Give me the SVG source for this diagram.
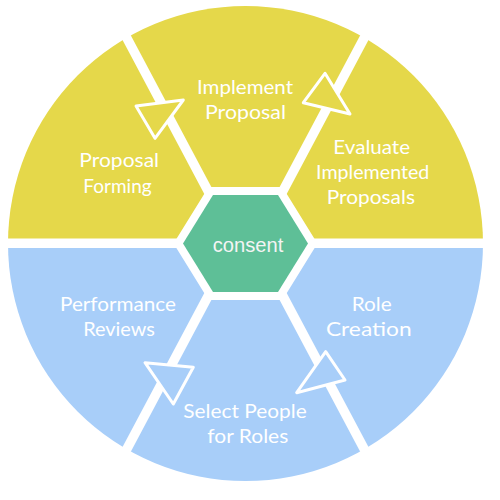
<svg xmlns="http://www.w3.org/2000/svg" width="500" height="500" viewBox="0 0 500 500">
<style>
.lbl{font-family:Lato,"Open Sans","DejaVu Sans",sans-serif;font-size:19px;fill:#FFFFFF;text-anchor:middle}
.gap{stroke:#FFFFFF;stroke-width:9.5;fill:none}
.arr{stroke:#FFFFFF;stroke-width:3;stroke-linejoin:round}
.y{fill:#E5D84A}
.b{fill:#A8CEF9}
</style>
<defs>
<clipPath id="disc"><circle cx="245.5" cy="243.5" r="237.5"/></clipPath>
</defs>
<rect width="500" height="500" fill="#FFFFFF"/>
<g id="wheel" clip-path="url(#disc)">
<rect x="0" y="0" width="500" height="243.5" class="y"/>
<rect x="0" y="243.5" width="500" height="256.5" class="b"/>
</g>
<g id="connectors">
<line class="gap" x1="0" y1="243.2" x2="500" y2="243.2"/>
<line class="gap" x1="236" y1="243.5" x2="104" y2="-5"/>
<line class="gap" x1="255" y1="243.5" x2="387" y2="-5"/>
<line class="gap" x1="236" y1="243.5" x2="104" y2="492"/>
<line class="gap" x1="255" y1="243.5" x2="387" y2="492"/>
<polygon class="arr y" points="136,106 183.3,100 155,138.3"/>
<polygon class="arr y" points="325,73.3 303.3,102.7 350,114"/>
<polygon class="arr b" points="145,362.7 193.3,367.3 173.3,404"/>
<polygon class="arr b" points="325.7,351.7 345,380 296.7,392.7"/>
</g>
<g id="node-consent">
<polygon points="183,243.5 213,195 278,195 308,243.5 278,292 213,292" fill="#FFFFFF" stroke="#FFFFFF" stroke-width="16" stroke-linejoin="miter"/>
<polygon points="183,243.5 213,195 278,195 308,243.5 278,292 213,292" fill="#5EBF97"/>
<text x="248" y="251.7" font-family="'Liberation Sans',Arial,sans-serif" font-size="20.5" fill="#F4F4F4" text-anchor="middle" textLength="70.6" lengthAdjust="spacingAndGlyphs">consent</text>
</g>
<g id="node-implement">
<text class="lbl" x="245" y="94.3" textLength="96" lengthAdjust="spacingAndGlyphs">Implement</text>
<text class="lbl" x="245.5" y="119.3" textLength="81" lengthAdjust="spacingAndGlyphs">Proposal</text>
</g>
<g id="node-forming">
<text class="lbl" x="119.2" y="166.7" textLength="79.7" lengthAdjust="spacingAndGlyphs">Proposal</text>
<text class="lbl" x="117.5" y="192.7" textLength="68.3" lengthAdjust="spacingAndGlyphs">Forming</text>
</g>
<g id="node-evaluate">
<text class="lbl" x="371.7" y="154.3" textLength="76.7" lengthAdjust="spacingAndGlyphs">Evaluate</text>
<text class="lbl" x="372.7" y="179.3" textLength="113.3" lengthAdjust="spacingAndGlyphs">Implemented</text>
<text class="lbl" x="370.8" y="204" textLength="88.3" lengthAdjust="spacingAndGlyphs">Proposals</text>
</g>
<g id="node-performance">
<text class="lbl" x="118" y="311.3" textLength="116" lengthAdjust="spacingAndGlyphs">Performance</text>
<text class="lbl" x="119" y="336.3" textLength="71.7" lengthAdjust="spacingAndGlyphs">Reviews</text>
</g>
<g id="node-role">
<text class="lbl" x="371.7" y="311.3" textLength="40" lengthAdjust="spacingAndGlyphs">Role</text>
<text class="lbl" x="368.8" y="336.3" textLength="85.7" lengthAdjust="spacingAndGlyphs">Creation</text>
</g>
<g id="node-select">
<text class="lbl" x="245" y="418.3" textLength="123.3" lengthAdjust="spacingAndGlyphs">Select People</text>
<text class="lbl" x="247.8" y="443.3" textLength="81" lengthAdjust="spacingAndGlyphs">for Roles</text>
</g>
</svg>
